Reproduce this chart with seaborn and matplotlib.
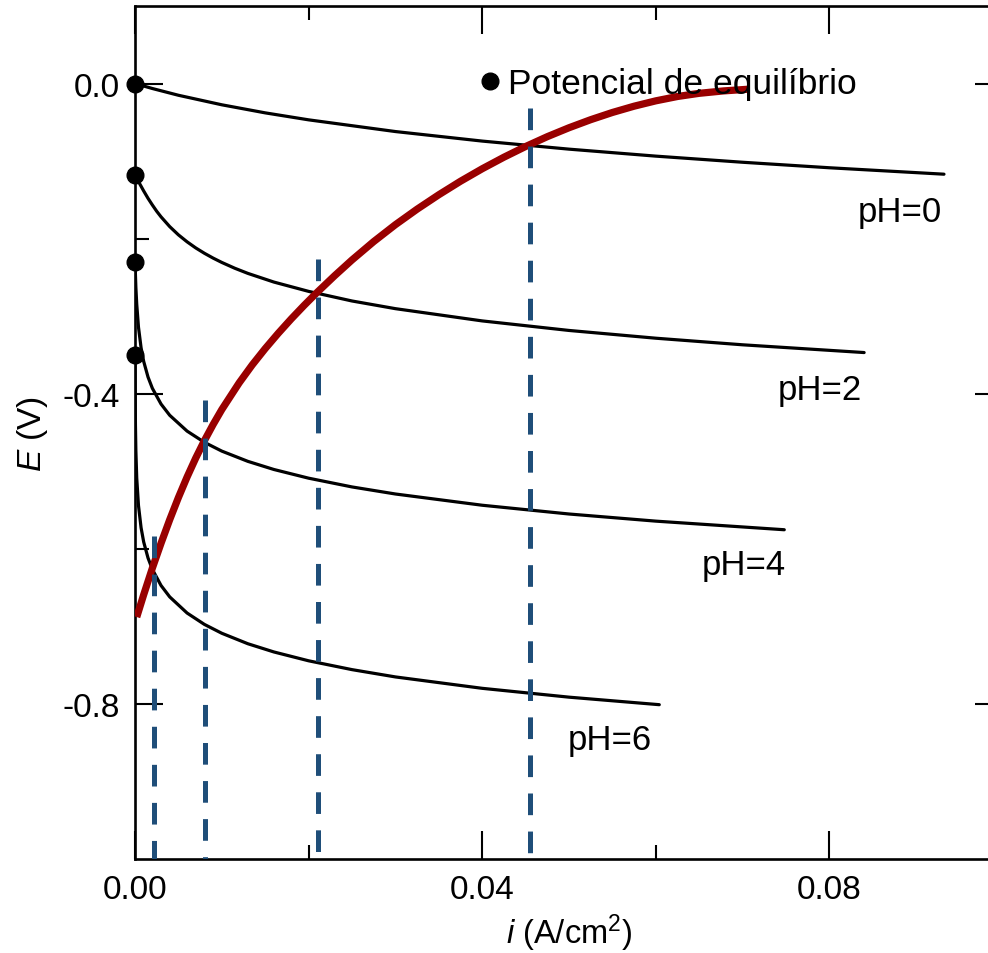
import matplotlib
matplotlib.use("Agg")
import matplotlib.pyplot as plt
from matplotlib.lines import Line2D
from matplotlib.ticker import FixedLocator, FormatStrFormatter
import seaborn as sns
import pandas as pd

# Cathodic polarization curves (hydrogen evolution) at several pH values
i_ph0 = [0, 0.002, 0.005, 0.01, 0.015, 0.02, 0.03, 0.04, 0.05, 0.06, 0.07, 0.08, 0.0932]
E_ph0 = [0, -0.0064, -0.0151, -0.0274, -0.0378, -0.0468, -0.0619, -0.0742, -0.0846,
         -0.0936, -0.1015, -0.1086, -0.1169]

i_ph2 = [0, 0.0005, 0.001, 0.0015, 0.002, 0.0025, 0.003, 0.004, 0.005, 0.006, 0.007, 0.008,
         0.009, 0.01, 0.0115, 0.013, 0.016, 0.02, 0.025, 0.03, 0.04, 0.05, 0.06, 0.07, 0.084]
E_ph2 = [-0.118, -0.1284, -0.1385, -0.1480, -0.1566, -0.1647, -0.1719, -0.1845, -0.1951,
         -0.2041, -0.2120, -0.2189, -0.2251, -0.2307, -0.2382, -0.2448, -0.256, -0.268,
         -0.2804, -0.2903, -0.3061, -0.3184, -0.3284, -0.3369, -0.3469]

i_ph4 = [0, 0.0001, 0.0002, 0.0004, 0.0007, 0.001, 0.0015, 0.002, 0.003, 0.004, 0.006,
         0.008, 0.01, 0.013, 0.016, 0.02, 0.025, 0.03, 0.04, 0.05, 0.06, 0.0748]
E_ph4 = [-0.230, -0.263, -0.2847, -0.3141, -0.3407, -0.3583, -0.3785, -0.393, -0.4133,
         -0.4278, -0.4482, -0.4627, -0.474, -0.4872, -0.4977, -0.5089, -0.5202, -0.5293,
         -0.5438, -0.5551, -0.5643, -0.5754]

i_ph6 = [0, 0.00002, 0.00005, 0.0001, 0.0002, 0.0004, 0.0007, 0.001, 0.0015, 0.002, 0.003,
         0.004, 0.006, 0.008, 0.01, 0.013, 0.016, 0.02, 0.025, 0.03, 0.04, 0.05, 0.0604]
E_ph6 = [-0.350, -0.400, -0.4395, -0.4736, -0.5088, -0.5441, -0.5728, -0.5911, -0.6118,
         -0.6265, -0.6473, -0.662, -0.6828, -0.6975, -0.7089, -0.7224, -0.733, -0.7444,
         -0.7558, -0.7652, -0.7799, -0.7913, -0.801]

# Anodic (metal dissolution) curve
i_anod = [0.0002, 0.001, 0.002, 0.003, 0.004, 0.005, 0.006, 0.007, 0.008, 0.009, 0.010,
          0.012, 0.0135, 0.015, 0.0165, 0.018, 0.0195, 0.021, 0.023, 0.025, 0.0275, 0.030,
          0.0325, 0.035, 0.0375, 0.040, 0.0425, 0.045, 0.0475, 0.050, 0.0525, 0.055,
          0.0575, 0.060, 0.0625, 0.065, 0.0678, 0.0708]
E_anod = [-0.688, -0.6592, -0.6249, -0.5928, -0.5624, -0.5339, -0.5074, -0.4829, -0.4604,
          -0.4397, -0.4204, -0.3860, -0.3629, -0.3418, -0.3221, -0.3035, -0.2859, -0.2691,
          -0.2478, -0.2275, -0.2038, -0.1820, -0.1620, -0.1434, -0.1260, -0.1099, -0.0950,
          -0.0812, -0.0685, -0.0570, -0.0466, -0.0373, -0.0292, -0.0223, -0.0167, -0.0126,
          -0.0095, -0.0072]

# Equilibrium potentials (i = 0) and corrosion currents
pH_labels = ["pH=0", "pH=2", "pH=4", "pH=6"]
E_eq = [0.0, -0.118, -0.230, -0.350]
i_corr = [0.0455, 0.0211, 0.0081, 0.0022]
E_corr_top = [-0.031, -0.226, -0.408, -0.583]

sns.set_theme(style="ticks")
plt.rcParams["font.family"] = ["Liberation Sans", "DejaVu Sans"]
plt.rcParams["mathtext.fontset"] = "custom"
plt.rcParams["mathtext.rm"] = "Liberation Sans"
plt.rcParams["mathtext.it"] = "Liberation Sans:italic"
plt.rcParams["axes.unicode_minus"] = False
plt.rcParams["lines.scale_dashes"] = False
plt.rcParams["text.color"] = "black"
plt.rcParams["axes.labelcolor"] = "black"

fig = plt.figure(figsize=(9.88, 9.54), dpi=100)
ax = fig.add_axes([135 / 988, 94 / 954, 868 / 988, 853 / 954])

curves = [(i_ph0, E_ph0), (i_ph2, E_ph2), (i_ph4, E_ph4), (i_ph6, E_ph6)]
for ii, ee in curves:
    df = pd.DataFrame({"i": ii, "E": ee})
    sns.lineplot(data=df, x="i", y="E", ax=ax, color="black", lw=2.3,
                 sort=False, estimator=None, zorder=2, solid_joinstyle="round")

df_an = pd.DataFrame({"i": i_anod, "E": E_anod})
sns.lineplot(data=df_an, x="i", y="E", ax=ax, color="#990000", lw=5.2,
             sort=False, estimator=None, zorder=3, solid_capstyle="butt",
             solid_joinstyle="round")

for xc, top in zip(i_corr, E_corr_top):
    ax.plot([xc, xc], [top, -1.0], color="#1f4e79", lw=3.6, dashes=(15.6, 11.8),
            dash_capstyle="butt", zorder=4)

ax.plot([0] * len(E_eq), E_eq, "o", color="black", ms=12, clip_on=False, zorder=6)

# curve labels, right-aligned under each curve end
label_pos = [(0.0930, -0.1773), (0.0837, -0.4065), (0.0750, -0.632), (0.0595, -0.858)]
for lab, (xl, yl) in zip(pH_labels, label_pos):
    ax.text(xl, yl, lab, ha="right", va="baseline", fontsize=25, color="black")

handle = Line2D([], [], marker="o", ls="", color="black", ms=12)
leg = ax.legend([handle], ["Potencial de equilíbrio"], loc="center left",
                bbox_to_anchor=(0.399, 0.909), frameon=False, fontsize=25.5,
                handlelength=0.5, handletextpad=0.24, borderpad=0, borderaxespad=0)
for t in leg.get_texts():
    t.set_color("black")

ax.set_xlim(0, 0.1)
ax.set_ylim(-1.0, 0.1)
ax.xaxis.set_major_locator(FixedLocator([0.0, 0.04, 0.08]))
ax.xaxis.set_minor_locator(FixedLocator([0.02, 0.06, 0.10]))
ax.yaxis.set_major_locator(FixedLocator([-0.8, -0.4, 0.0]))
ax.yaxis.set_minor_locator(FixedLocator([-0.6, -0.2]))
ax.xaxis.set_major_formatter(FormatStrFormatter("%.2f"))
ax.yaxis.set_major_formatter(FormatStrFormatter("%.1f"))

for s in ax.spines.values():
    s.set_linewidth(1.9)
    s.set_color("black")
ax.tick_params(which="both", direction="in", top=True, right=True, color="black",
               width=1.5, labelsize=24, labelcolor="black")
ax.tick_params(which="major", length=20, pad=11)
ax.tick_params(which="minor", length=10)

ax.set_xlabel(r"$\mathit{i}$ (A/cm$^2$)", fontsize=23.5, color="black")
ax.set_ylabel(r"$\mathit{E}$ (V)", fontsize=24, color="black")
ax.xaxis.set_label_coords(0.5, -0.062)
ax.yaxis.set_label_coords(-0.098, 0.5)

fig.savefig("out.png", dpi=100)
